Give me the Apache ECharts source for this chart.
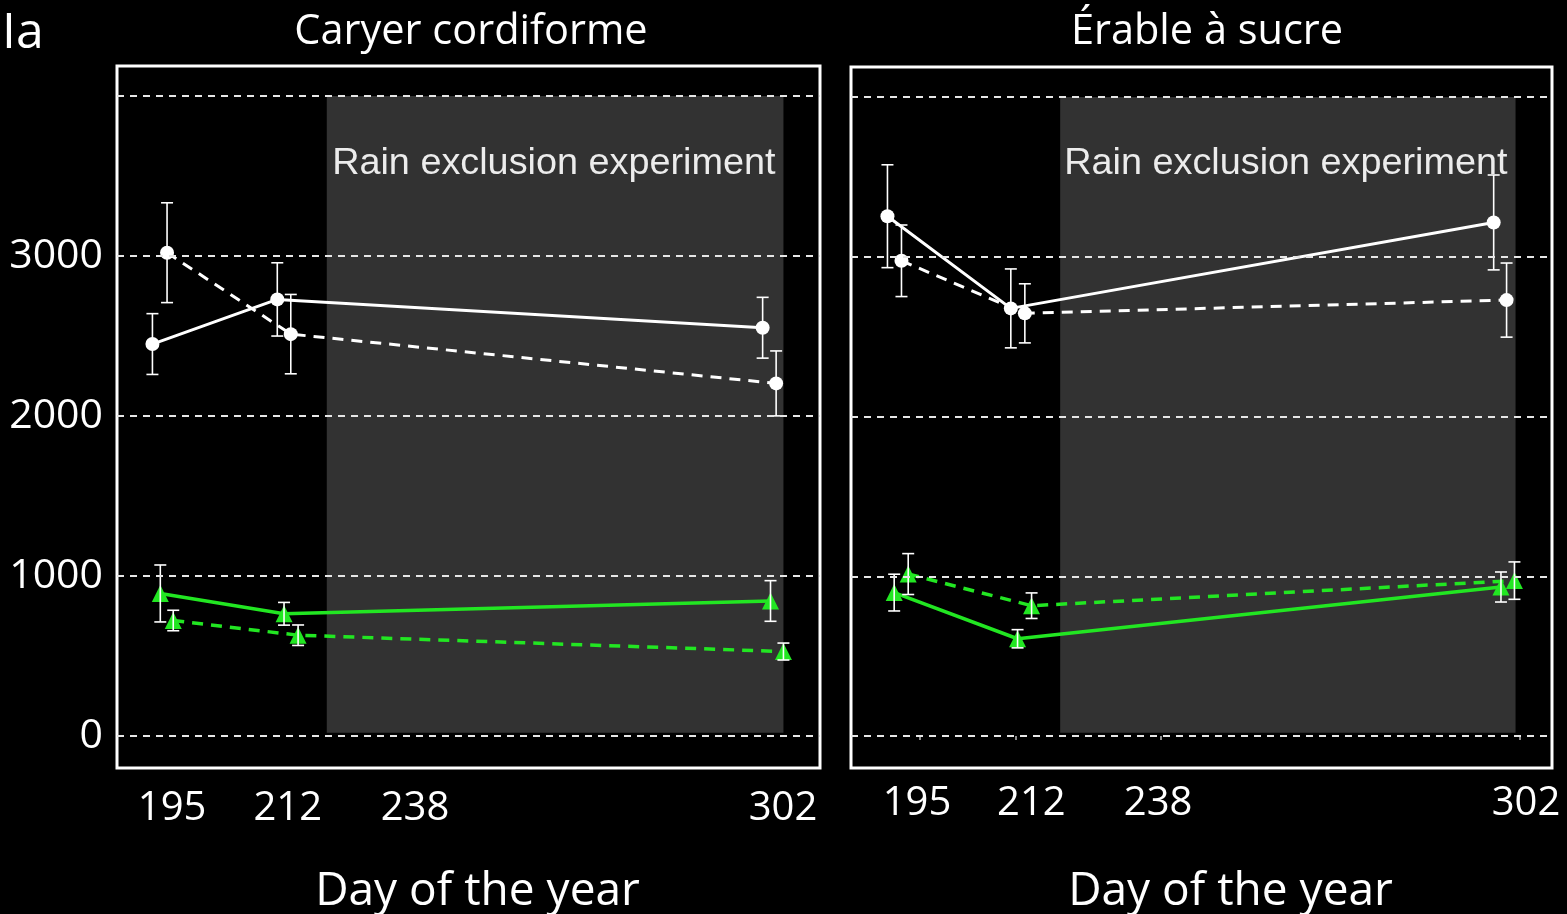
<!DOCTYPE html>
<html><head><meta charset="utf-8">
<script src="https://cdn.jsdelivr.net/npm/echarts@6/dist/echarts.min.js"></script>
<style>html,body{margin:0;padding:0;background:#000;overflow:hidden}#c{width:1567px;height:914px}</style>
</head><body><div id="c"></div>
<script>
// ---------- data ----------
const panelTitles = ['Caryer cordiforme', 'Érable à sucre'];
const panelLetter = 'Ia';
const xAxisTitle = 'Day of the year';
const xTickValues = [195, 212, 238, 302];
const yGridValues = [0, 1000, 2000, 3000, 4000];
const yLabelValues = [0, 1000, 2000, 3000];
const rainPeriod = [220, 301.2];
const rainLabel = 'Rain exclusion experiment';

// Caryer cordiforme (left)
const carCircSolidX = [189.0, 211.2, 297.5];
const carCircSolidY = [2450, 2729, 2552];
const carCircSolidErr = [190, 229, 190];
const carCircDashX = [191.6, 213.6, 299.9];
const carCircDashY = [3021, 2512, 2204];
const carCircDashErr = [312, 248, 203];
const carTriSolidX = [190.4, 212.4, 298.9];
const carTriSolidY = [891, 764, 844];
const carTriSolidErr = [178, 71, 127];
const carTriDashX = [192.7, 214.9, 301.2];
const carTriDashY = [722, 630, 528];
const carTriDashErr = [64, 64, 53];

// Érable à sucre (right)
const eraCircSolidX = [189.2, 211.2, 297.3];
const eraCircSolidY = [3254, 2677, 3215];
const eraCircSolidErr = [322, 247, 297];
const eraCircDashX = [191.7, 213.7, 299.6];
const eraCircDashY = [2975, 2646, 2729];
const eraCircDashErr = [224, 185, 232];
const eraTriSolidX = [190.4, 212.4, 298.6];
const eraTriSolidY = [898, 609, 933];
const eraTriSolidErr = [115, 57, 94];
const eraTriDashX = [192.9, 214.9, 301.0];
const eraTriDashY = [1014, 816, 973];
const eraTriDashErr = [128, 80, 117];

// ---------- build ----------
const FONT = '"Open Sans", "Noto Sans", sans-serif';
const WHITE = '#ffffff';
const GREEN = '#22e622';

const panels = [
  {
    groups: [
      {x: carCircSolidX, y: carCircSolidY, e: carCircSolidErr, color: WHITE, sym: 'circle', dash: false},
      {x: carCircDashX, y: carCircDashY, e: carCircDashErr, color: WHITE, sym: 'circle', dash: true},
      {x: carTriSolidX, y: carTriSolidY, e: carTriSolidErr, color: GREEN, sym: 'triangle', dash: false},
      {x: carTriDashX, y: carTriDashY, e: carTriDashErr, color: GREEN, sym: 'triangle', dash: true}
    ]
  },
  {
    groups: [
      {x: eraCircSolidX, y: eraCircSolidY, e: eraCircSolidErr, color: WHITE, sym: 'circle', dash: false},
      {x: eraCircDashX, y: eraCircDashY, e: eraCircDashErr, color: WHITE, sym: 'circle', dash: true},
      {x: eraTriSolidX, y: eraTriSolidY, e: eraTriSolidErr, color: GREEN, sym: 'triangle', dash: false},
      {x: eraTriDashX, y: eraTriDashY, e: eraTriDashErr, color: GREEN, sym: 'triangle', dash: true}
    ]
  }
];

const grids = [
  {left: 117, top: 66, width: 703, height: 702},
  {left: 851, top: 67, width: 701, height: 701}
].map(g => Object.assign(g, {show: true, borderColor: '#ffffff', borderWidth: 3, backgroundColor: '#000',
  containLabel: false, outerBoundsMode: 'none'}));

// label nudges (pixels) to mimic the hand-placed tick labels of the original
const labelNudge = [
  {195: -14, 212: 6, 238: -13, 302: -5},
  {195: -3, 212: 16, 238: -3, 302: 6}
];
function richFor(i) {
  const r = {};
  Object.keys(labelNudge[i]).forEach(k => {
    const d = labelNudge[i][k];
    r['t' + k] = {color: '#fff', fontFamily: FONT, fontSize: 40,
                  padding: d >= 0 ? [0, 0, 0, 2 * d] : [0, -2 * d, 0, 0]};
  });
  return r;
}

const xAxes = [0, 1].map(i => ({
  type: 'value', gridIndex: i, min: 182.7, max: 307.7,
  axisLine: {show: false},
  splitLine: {show: false},
  axisTick: {show: i === 1, customValues: xTickValues, length: 4, inside: false, lineStyle: {color: '#bbb', width: 1.5}},
  axisLabel: {customValues: xTickValues, color: '#fff', fontFamily: FONT, fontSize: 40, margin: i === 0 ? 21 : 16,
              formatter: v => '{t' + v + '|' + v + '}', rich: richFor(i)},
  name: xAxisTitle, nameLocation: 'middle', nameGap: 101,
  nameTextStyle: {color: '#fff', fontFamily: FONT, fontSize: 46, padding: i === 1 ? [0, 0, 0, 58] : [0, 0, 0, 18]}
}));

const yAxes = [0, 1].map(i => ({
  type: 'value', gridIndex: i, min: -200, max: 4188,
  axisLine: {show: false}, axisTick: {show: false}, splitLine: {show: false},
  axisLabel: {show: i === 0, customValues: yLabelValues, formatter: v => String(v),
              color: '#fff', fontFamily: FONT, fontSize: 41, margin: 14}
}));

const series = [];
panels.forEach((p, i) => {
  series.push({
    type: 'line', xAxisIndex: i, yAxisIndex: i, data: [], z: 0, silent: true,
    markArea: {
      silent: true,
      itemStyle: {color: '#323232'},
      label: {show: true, position: 'insideTopRight', distance: 8, offset: [0, 40], color: '#ececec',
              fontFamily: '"Liberation Sans", Arial, sans-serif', fontSize: 37.8},
      data: [[{xAxis: rainPeriod[0], yAxis: 20, name: rainLabel}, {xAxis: rainPeriod[1], yAxis: 4000}]]
    }
  });
  series.push({
    type: 'line', xAxisIndex: i, yAxisIndex: i, data: [], z: 1, silent: true,
    markLine: {
      silent: true, symbol: ['none', 'none'], label: {show: false},
      lineStyle: {color: '#e6e6e6', type: [7, 6], width: 1.8},
      data: yGridValues.map(v => ({yAxis: v}))
    }
  });
  p.groups.forEach(g => {
    const isGreen = g.color === GREEN;
    series.push({
      type: 'line', xAxisIndex: i, yAxisIndex: i, z: 3,
      data: g.x.map((xv, k) => [xv, g.y[k]]),
      symbol: g.sym, symbolSize: g.sym === 'circle' ? 14 : 17,
      itemStyle: {color: g.color},
      lineStyle: {color: g.color, width: isGreen ? 3.5 : 3, type: g.dash ? [11, 8] : 'solid'},
      animation: false
    });
    series.push({
      type: 'custom', xAxisIndex: i, yAxisIndex: i, z: 4,
      data: g.x.map((xv, k) => [xv, g.y[k] - g.e[k], g.y[k] + g.e[k]]),
      encode: {x: 0, y: [1, 2]},
      renderItem: (params, api) => {
        const xv = api.value(0);
        const lo = api.coord([xv, api.value(1)]);
        const hi = api.coord([xv, api.value(2)]);
        const w = 6;
        const st = {stroke: '#ffffff', lineWidth: 1.6};
        return {type: 'group', children: [
          {type: 'line', shape: {x1: lo[0], y1: lo[1], x2: hi[0], y2: hi[1]}, style: st},
          {type: 'line', shape: {x1: lo[0] - w, y1: lo[1], x2: lo[0] + w, y2: lo[1]}, style: st},
          {type: 'line', shape: {x1: hi[0] - w, y1: hi[1], x2: hi[0] + w, y2: hi[1]}, style: st}
        ]};
      },
      animation: false
    });
  });
});

const chart = echarts.init(document.getElementById('c'), null, {renderer: 'canvas'});
chart.setOption({
  backgroundColor: '#000',
  animation: false,
  title: [
    {text: panelLetter, left: -3, top: 4, textStyle: {color: '#fff', fontFamily: FONT, fontSize: 50, fontWeight: 'normal'}},
    {text: panelTitles[0], left: 466, top: 6, textAlign: 'center', textStyle: {color: '#fff', fontFamily: FONT, fontSize: 41.5, fontWeight: 'normal'}},
    {text: panelTitles[1], left: 1202, top: 6, textAlign: 'center', textStyle: {color: '#fff', fontFamily: FONT, fontSize: 41.5, fontWeight: 'normal'}}
  ],
  grid: grids,
  xAxis: xAxes,
  yAxis: yAxes,
  series: series
});
</script>
</body></html>
